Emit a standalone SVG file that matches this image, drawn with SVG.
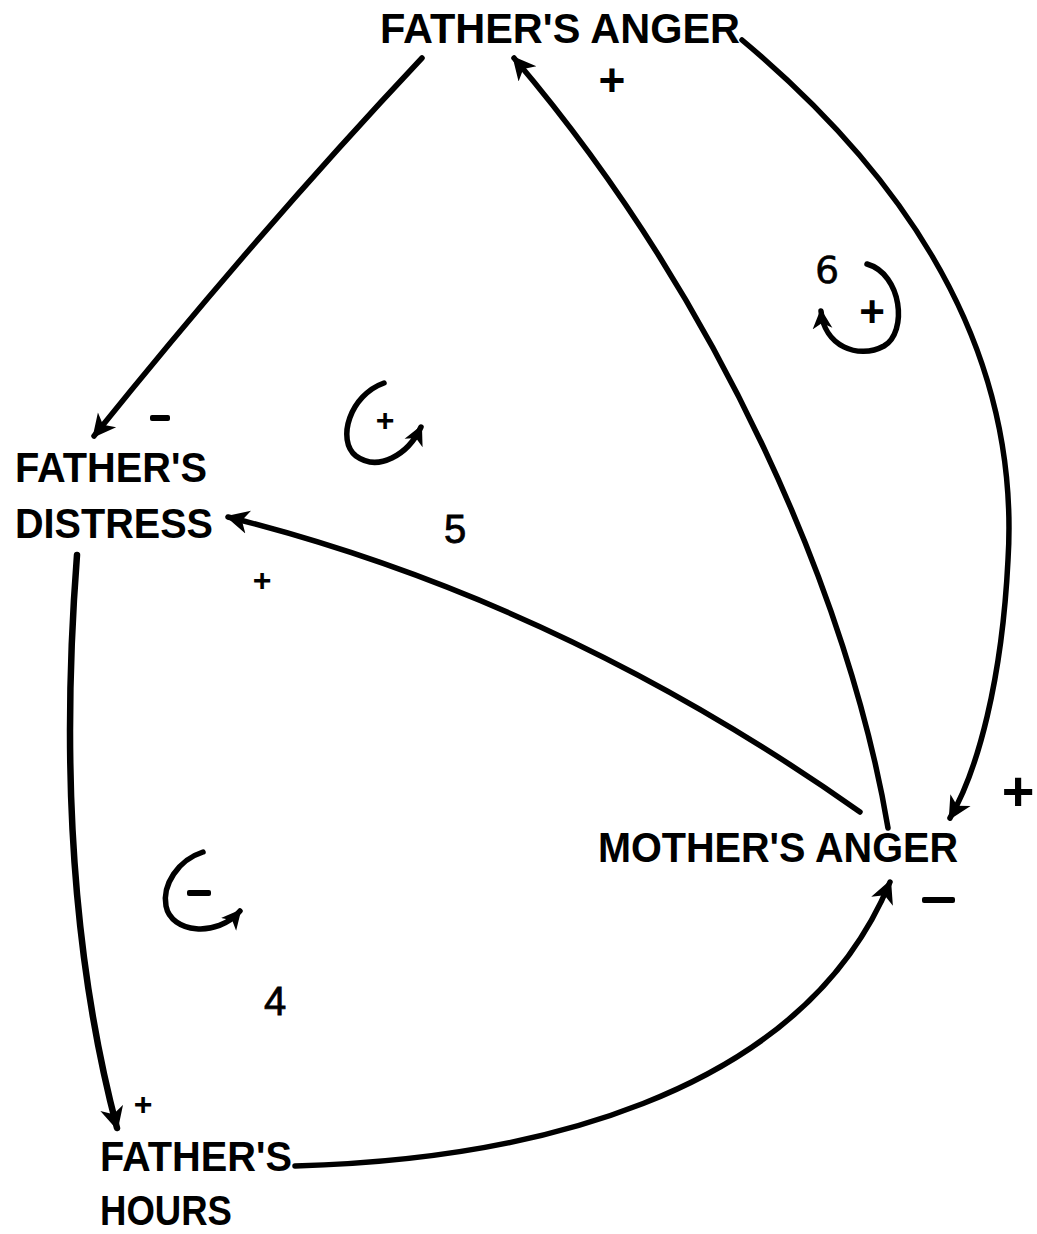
<svg xmlns="http://www.w3.org/2000/svg" width="1037" height="1234" viewBox="0 0 1037 1234">
<defs>
<style>
.lbl{font-family:"Liberation Sans",Arial,sans-serif;font-size:42px;font-weight:bold;fill:#000}
.sign{font-family:"Liberation Sans",Arial,sans-serif;font-weight:bold;fill:#000;text-anchor:middle}
.num{font-family:"Liberation Sans",Arial,sans-serif;font-size:40px;fill:#000;stroke:#000;stroke-width:0.8;text-anchor:middle}
.edge{fill:none;stroke:#000;stroke-width:5.5;stroke-linecap:round;marker-end:url(#ah)}
.loop{fill:none;stroke:#000;stroke-width:5.5;stroke-linecap:round;marker-end:url(#lh)}
</style>
<marker id="ah" viewBox="0 0 20 20" refX="16" refY="10" markerWidth="26" markerHeight="26" markerUnits="userSpaceOnUse" orient="auto">
<path d="M0,1 L18,10 L0,19 L5,10 Z" fill="#000"/>
</marker>
<marker id="lh" viewBox="0 0 20 20" refX="16" refY="10" markerWidth="22" markerHeight="22" markerUnits="userSpaceOnUse" orient="auto">
<path d="M0,1 L18,10 L0,19 L5,10 Z" fill="#000"/>
</marker>
</defs>
<rect width="1037" height="1234" fill="#fff"/>

<g id="node-fathers-anger">
<text class="lbl" x="380" y="43" textLength="360" lengthAdjust="spacingAndGlyphs">FATHER'S ANGER</text>
</g>
<g id="node-fathers-distress">
<text class="lbl" x="15" y="482" textLength="192" lengthAdjust="spacingAndGlyphs">FATHER'S</text>
<text class="lbl" x="15" y="538" textLength="198" lengthAdjust="spacingAndGlyphs">DISTRESS</text>
</g>
<g id="node-mothers-anger">
<text class="lbl" x="598" y="862" textLength="360" lengthAdjust="spacingAndGlyphs">MOTHER'S ANGER</text>
</g>
<g id="node-fathers-hours">
<text class="lbl" x="100" y="1171" textLength="192" lengthAdjust="spacingAndGlyphs">FATHER'S</text>
<text class="lbl" x="100" y="1225" textLength="132" lengthAdjust="spacingAndGlyphs">HOURS</text>
</g>

<g id="connectors">
<path class="edge" d="M422,58 Q260,230 94,436"/>
<path class="edge" d="M888,828 C850,600 720,300 514,58"/>
<path class="edge" d="M742,40 C885,160 1022,330 1008,560 C1002,680 978,770 950,818"/>
<path class="edge" d="M860,812 Q560,600 228,517"/>
<path class="edge" style="stroke-width:6.5" d="M77,555 C62,750 70,950 117,1128"/>
<path class="edge" d="M295,1166 C520,1160 800,1100 890,882"/>
</g>

<g id="polarity-signs">
<rect x="150" y="415" width="20" height="6" rx="2" fill="#000"/>
<text class="sign" x="612" y="96" font-size="46">+</text>
<text class="sign" x="1018" y="810" font-size="56">+</text>
<text class="sign" x="262" y="591" font-size="32">+</text>
<text class="sign" x="143" y="1115" font-size="32">+</text>
<rect x="922" y="897" width="33" height="6" rx="2" fill="#000"/>
</g>

<g id="loop-5">
<path class="loop" d="M384,383 C350,395 336,440 356,456 C378,472 408,455 421,427"/>
<text class="sign" x="385" y="431" font-size="32">+</text>
<text class="num" x="455" y="543">5</text>
</g>
<g id="loop-6">
<text class="num" x="827" y="283" style="font-family:'DejaVu Sans',sans-serif;font-size:38px;stroke-width:0.5">6</text>
<path class="loop" d="M867,264 C902,274 908,332 884,346 C858,360 824,346 821,311"/>
<text class="sign" x="872" y="327" font-size="44">+</text>
</g>
<g id="loop-4">
<path class="loop" d="M203,852 C178,860 162,885 166,906 C171,933 217,938 240,911"/>
<rect x="187" y="890" width="24" height="6" rx="2" fill="#000"/>
<text class="num" x="275" y="1015">4</text>
</g>
</svg>
